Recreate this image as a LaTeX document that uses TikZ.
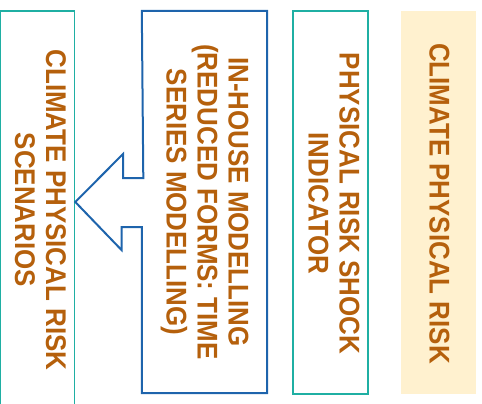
\documentclass[tikz,border=0pt]{standalone}
\usepackage{fontspec}
\usepackage{tikz}
\usetikzlibrary{calc}

\newfontfamily\riskfont[FakeStretch=0.91]{Liberation Sans}

\definecolor{riskteal}{HTML}{1FAFA3}
\definecolor{riskblue}{HTML}{1E64AC}
\definecolor{riskbrown}{HTML}{B5600C}
\definecolor{riskcream}{HTML}{FFF1CF}

\tikzset{
  boxlabel/.style={rotate=-90,text=riskbrown,align=center,inner sep=0pt,
    font=\riskfont\bfseries\fontsize{28.5}{31}\selectfont},
  panel/.style={rectangle,inner sep=0pt},
  tealpanel/.style={panel,draw=riskteal,line width=1.6pt},
}

\begin{document}
\begin{tikzpicture}[x=1pt,y=-1pt]
  \useasboundingbox (0,0) rectangle (482,404);
  % the four columns
  \node[tealpanel,minimum width=74.5pt,minimum height=398pt] (scenarios) at (37.25,210) {};
  \node[panel,minimum width=125pt,minimum height=382pt] (inhouse) at (204.5,202) {};
  \node[tealpanel,minimum width=75pt,minimum height=383pt] (shock) at (330.5,202.5) {};
  \node[panel,fill=riskcream,minimum width=75pt,minimum height=383pt] (risk) at (438.5,202.5) {};
  %
  \node[boxlabel] (scenariostext) at (40.5,210) {CLIMATE PHYSICAL RISK\\SCENARIOS};
  \node[boxlabel] (inhousetext) at (inhouse.center) {IN-HOUSE MODELLING\\(REDUCED FORMS: TIME\\SERIES MODELLING)};
  \node[boxlabel] (shocktext) at (334,203.5) {PHYSICAL RISK SHOCK\\INDICATOR};
  \node[boxlabel] (risktext) at (439.5,203.5) {CLIMATE PHYSICAL RISK};
  %
  % modelling box with its arrow towards the scenarios
  \coordinate (tip) at (scenarios.east |- inhouse.west);
  \draw[riskblue,line width=2pt,line join=miter]
    (inhouse.north west) -- (inhouse.north east) -- (inhouse.south east) -- (inhouse.south west)
    -- ([yshift=-25pt]inhouse.west) -- ++(-20.3,0) -- ++(0,23)
    -- (tip) -- ++(47.7,-48) -- ++(0,24) -- ++(20.3,0) -- cycle;
\end{tikzpicture}
\end{document}
